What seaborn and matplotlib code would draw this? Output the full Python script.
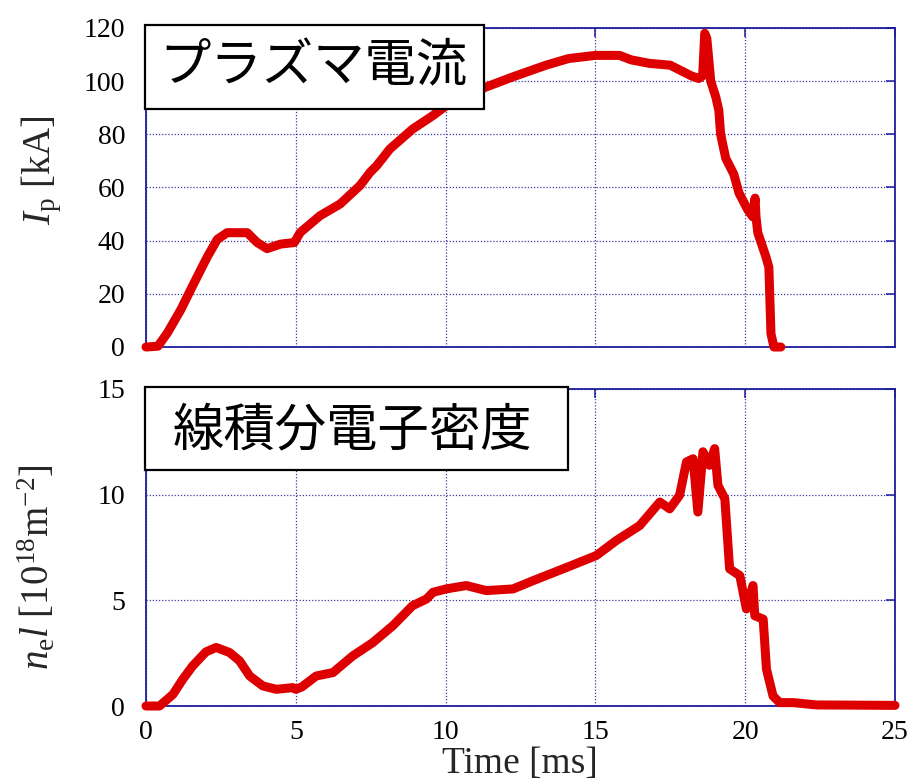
import matplotlib
matplotlib.use("Agg")
import matplotlib.pyplot as plt
from matplotlib.patches import Rectangle
import seaborn as sns
import pandas as pd

# ---- data ----
t_ip = [0, 0.4, 0.72, 1.16, 1.6, 2.05, 2.38, 2.71, 3.38, 3.71,
        4.04, 4.49, 4.95, 5.15, 5.81, 6.48, 7.14, 7.48, 7.70, 8.14,
        8.9, 9.57, 10.0, 10.7, 11.35, 12.24, 13.35, 14.1, 15.0, 15.8,
        16.2, 16.8, 17.5, 17.85, 18.2, 18.45, 18.58, 18.65, 18.72, 18.85,
        19.02, 19.12, 19.18, 19.35, 19.62, 19.79, 20.09, 20.25, 20.33, 20.36,
        20.42, 20.69, 20.79, 20.86, 20.96, 21.19]
ip = [0, 0.3, 5.4, 14, 24, 34, 40.5, 43, 43, 39.3,
      37, 38.7, 39.3, 43.1, 49.4, 53.8, 60.7, 65.7, 68.2, 74.5,
      82, 87, 90.6, 94.6, 97.8, 101.6, 106, 108.5, 109.7, 109.7,
      108, 106.7, 106, 104, 102, 101, 102, 118, 116, 100,
      94, 89, 80, 71, 65, 58, 51.5, 49, 56, 49,
      43, 34, 30, 5, 0, 0]

t_ne = [0, 0.45, 0.9, 1.23, 1.56, 2.0, 2.34, 2.79, 3.12, 3.46,
        3.9, 4.35, 4.9, 5.0, 5.2, 5.68, 6.24, 6.9, 7.57, 8.24,
        8.9, 9.36, 9.58, 10.02, 10.69, 11.36, 12.25, 12.92, 13.92, 15.03,
        15.7, 16.48, 17.15, 17.48, 17.81, 18.04, 18.26, 18.42, 18.59, 18.81,
        18.98, 19.09, 19.32, 19.48, 19.82, 20.04, 20.26, 20.32, 20.6, 20.71,
        20.93, 21.15, 21.6, 22.38, 25.0]
ne = [0, 0, 0.55, 1.27, 1.9, 2.56, 2.77, 2.53, 2.14, 1.42,
      0.95, 0.79, 0.87, 0.79, 0.9, 1.42, 1.58, 2.37, 3.0, 3.8,
      4.75, 5.06, 5.38, 5.54, 5.7, 5.46, 5.54, 5.93, 6.49, 7.12,
      7.83, 8.54, 9.65, 9.33, 9.97, 11.55, 11.7, 9.18, 12.03, 11.39,
      12.18, 10.44, 9.81, 6.49, 6.17, 4.59, 5.7, 4.27, 4.11, 1.74,
      0.47, 0.16, 0.16, 0.05, 0.03]

x_ticks = [0, 5, 10, 15, 20, 25]
ip_ticks = [0, 20, 40, 60, 80, 100, 120]
ne_ticks = [0, 5, 10, 15]
title_ip = "プラズマ電流"
title_ne = "線積分電子密度"

# ---- style ----
sns.set_style("white")
plt.rcParams["font.family"] = ["Liberation Serif", "Noto Sans CJK JP"]
plt.rcParams["mathtext.fontset"] = "custom"
plt.rcParams["mathtext.rm"] = "Liberation Serif"
plt.rcParams["mathtext.it"] = "Liberation Serif:italic"

NAVY = "#1c1c9c"
GRID = "#3a3aa0"
RED = "#de0000"

W, H = 908, 784
fig = plt.figure(figsize=(W / 100, H / 100), dpi=100)
fig.patch.set_facecolor("white")

def fx(px):
    return px / W

def fy(py):
    return 1 - py / H

ax1 = fig.add_axes([fx(146), fy(347), 749 / W, 319 / H])
ax2 = fig.add_axes([fx(146), fy(706), 749 / W, 317 / H])

df_ip = pd.DataFrame({"t": t_ip, "v": ip})
df_ne = pd.DataFrame({"t": t_ne, "v": ne})

for ax, df, yt, ylim in [(ax1, df_ip, ip_ticks, (0, 120)),
                         (ax2, df_ne, ne_ticks, (0, 15))]:
    sns.lineplot(data=df, x="t", y="v", ax=ax, color=RED, linewidth=6.5,
                 estimator=None, sort=False, clip_on=False, zorder=5)
    ax.set_xlim(0, 25)
    ax.set_ylim(*ylim)
    ax.set_xticks(x_ticks)
    ax.set_yticks(yt)
    ax.set_xlabel("")
    ax.set_ylabel("")
    ax.grid(True, linestyle=(0, (1, 1.5)), color=GRID, linewidth=0.9)
    for s in ax.spines.values():
        s.set_color(NAVY)
        s.set_linewidth(1.3)
        s.set_visible(True)
    ax.tick_params(direction="in", length=6.5, width=1.1, color=NAVY,
                   top=True, right=True, labelsize=20, labelcolor="black")
    ax.tick_params(axis="y", pad=15)
    ax.tick_params(axis="x", pad=10)

ax1.tick_params(labelbottom=False)

# ---- boxed Japanese titles ----
for (x0, y0, x1, y1, cx, cy, txt) in [(145, 25, 484, 109, 313, 67, title_ip),
                                      (145, 387, 568, 470, 352, 431, title_ne)]:
    fig.patches.append(Rectangle((fx(x0), fy(y1)), (x1 - x0) / W, (y1 - y0) / H,
                                 transform=fig.transFigure, facecolor="white",
                                 edgecolor="black", linewidth=1.6, zorder=10))
    fig.text(fx(cx), fy(cy), txt, ha="center", va="center", fontsize=37,
             family=["Noto Sans CJK JP", "DejaVu Sans"], color="black", zorder=11)

# ---- axis labels ----
fig.text(fx(42), fy(170), r"$I_{\rm p}$ [kA]", rotation=90, ha="center",
         va="center", fontsize=28)
fig.text(fx(38), fy(567), r"$n_{\rm e}l$ [10$^{18}$m$^{-2}$]", rotation=90,
         ha="center", va="center", fontsize=28)
fig.text(fx(520), fy(764), "Time [ms]", ha="center", va="center", fontsize=27)

fig.savefig("out.png", dpi=100, facecolor="white")
